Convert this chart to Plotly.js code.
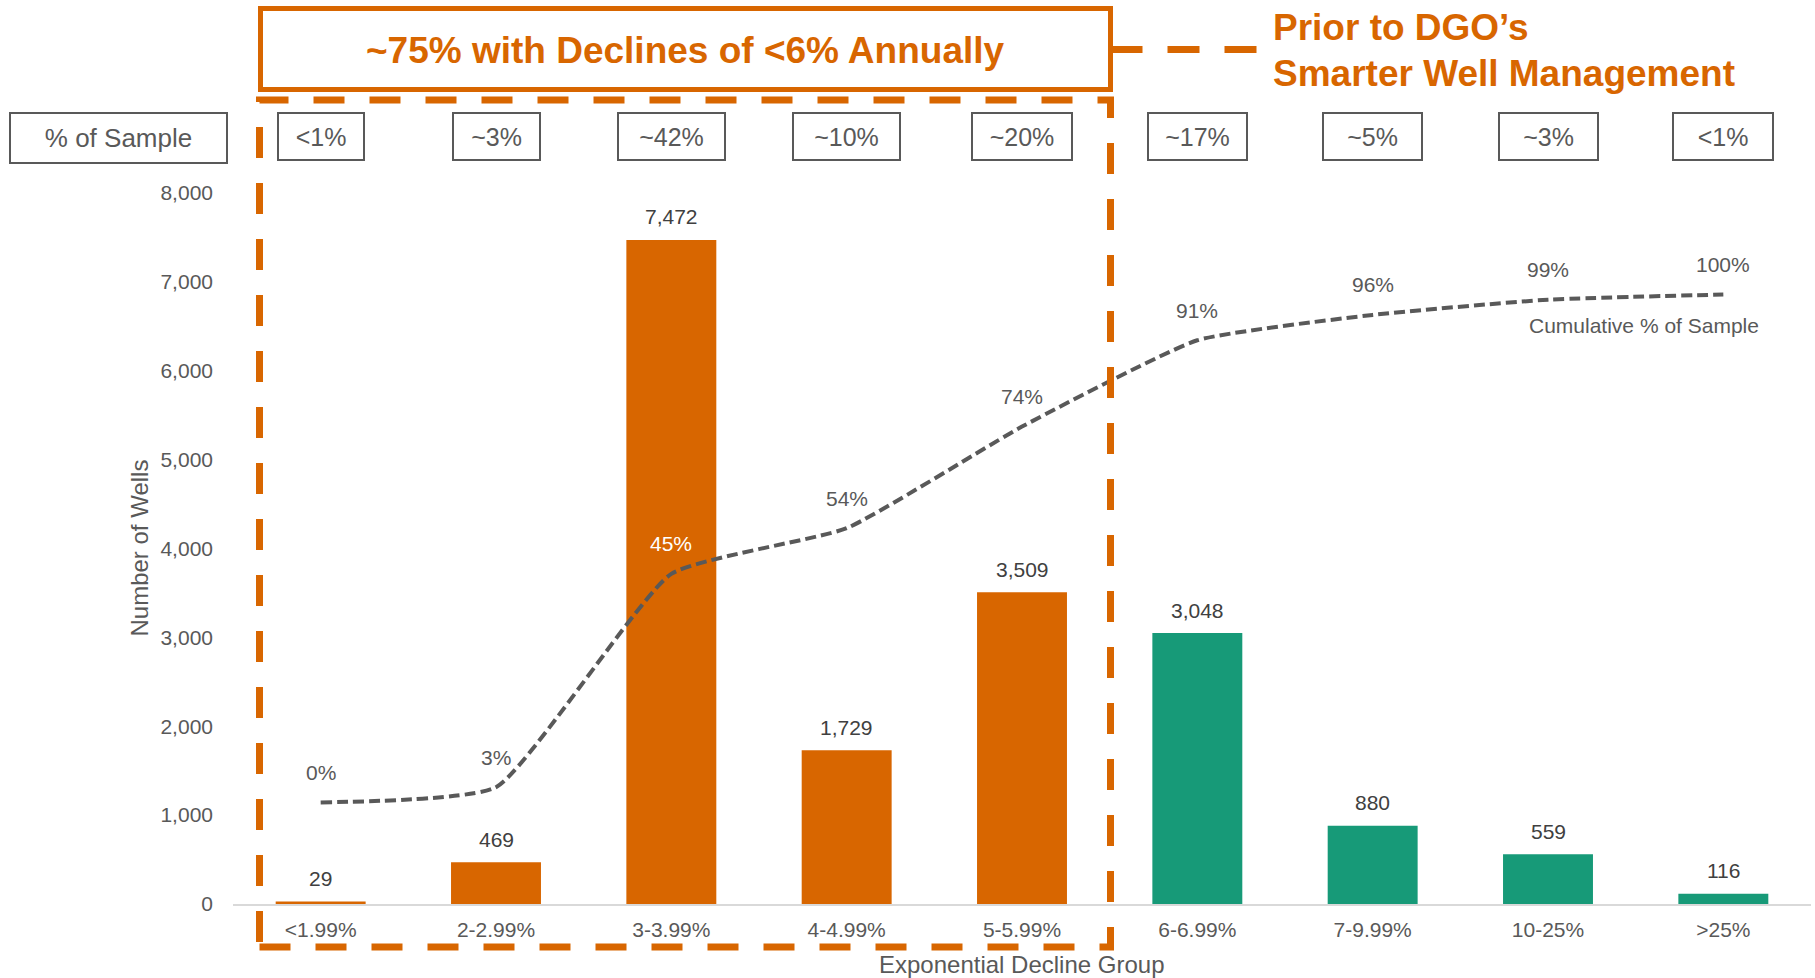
<!DOCTYPE html>
<html>
<head>
<meta charset="utf-8">
<script src="https://cdn.plot.ly/plotly-3.0.1.min.js"></script>
<style>
  html, body { margin: 0; padding: 0; background: #ffffff; }
  #chart { width: 1815px; height: 978px; }
</style>
</head>
<body>
<div id="chart"></div>
<script>
// ---- data ----
const categories = ['<1.99%', '2-2.99%', '3-3.99%', '4-4.99%', '5-5.99%', '6-6.99%', '7-9.99%', '10-25%', '>25%'];
const wells = [29, 469, 7472, 1729, 3509, 3048, 880, 559, 116];
const cumulativePct = [0, 3, 45, 54, 74, 91, 96, 99, 100];
const sampleShare = ['<1%', '~3%', '~42%', '~10%', '~20%', '~17%', '~5%', '~3%', '<1%'];
const highlightCount = 5; // first five groups: declines below 6%
const headline = '~75% with Declines of &lt;6% Annually';
const sideNoteLines = ['Prior to DGO’s', 'Smarter Well Management'];
const lineName = 'Cumulative % of Sample';
const shareHeader = '% of Sample';
const xTitle = 'Exponential Decline Group';
const yTitle = 'Number of Wells';

// ---- styling ----
const ORANGE = '#D86600';
const GREEN = '#179A78';
const GRAY = '#595959';
const DARK = '#404040';
const FONT = 'Liberation Sans, Arial, Helvetica, sans-serif';
const boxWidths = [88, 89, 109, 109, 102, 101, 101, 101, 102];

const W = 1815, H = 978;
const M = { l: 233, r: 4, t: 193, b: 74 };
const PW = W - M.l - M.r, PH = H - M.t - M.b;
const px = x => (x - M.l) / PW;           // pixel -> paper x
const py = y => (H - M.b - y) / PH;       // pixel -> paper y

const Y2MIN = -20, Y2MAX = 120, YMAX = 8000;

const barColors = wells.map((_, i) => i < highlightCount ? ORANGE : GREEN);

const traces = [
  {
    type: 'bar',
    x: categories,
    y: wells,
    width: 0.513,
    marker: { color: barColors },
    hoverinfo: 'skip'
  },
  {
    type: 'scatter',
    mode: 'lines',
    x: categories,
    y: cumulativePct,
    yaxis: 'y2',
    line: { color: GRAY, width: 4, dash: '11px,5px', shape: 'spline', smoothing: 0.45 },
    hoverinfo: 'skip'
  }
];

const annotations = [];

// bar value labels
wells.forEach((v, i) => {
  annotations.push({
    x: categories[i], y: v, xref: 'x', yref: 'y',
    text: v.toLocaleString('en-US'), showarrow: false,
    yshift: 23, yanchor: 'middle',
    font: { family: FONT, size: 21, color: DARK }
  });
});

// cumulative labels
cumulativePct.forEach((v, i) => {
  const asY1 = (v - Y2MIN) / (Y2MAX - Y2MIN) * YMAX;
  const inside = asY1 < wells[i];
  annotations.push({
    x: categories[i], y: v, xref: 'x', yref: 'y2',
    text: v + '%', showarrow: false,
    yshift: 30, yanchor: 'middle',
    font: { family: FONT, size: 21, color: inside ? '#FFFFFF' : GRAY }
  });
});

// share boxes
sampleShare.forEach((s, i) => {
  annotations.push({
    x: categories[i], y: py(136.5), xref: 'x', yref: 'paper',
    text: s, showarrow: false, xanchor: 'center', yanchor: 'middle',
    width: boxWidths[i] - 4, height: 45, borderpad: 0,
    bordercolor: GRAY, borderwidth: 2, bgcolor: '#FFFFFF',
    font: { family: FONT, size: 25, color: GRAY }
  });
});

annotations.push({
  x: px(118.5), y: py(138), xref: 'paper', yref: 'paper',
  text: shareHeader, showarrow: false, xanchor: 'center', yanchor: 'middle',
  width: 215, height: 48, borderpad: 0,
  bordercolor: GRAY, borderwidth: 2, bgcolor: '#FFFFFF',
  font: { family: FONT, size: 26, color: GRAY }
});

// headline
annotations.push({
  x: px(685.5), y: py(50), xref: 'paper', yref: 'paper',
  text: '<b>' + headline + '</b>', showarrow: false, xanchor: 'center', yanchor: 'middle',
  font: { family: FONT, size: 37, color: ORANGE }
});

// side note (two lines)
[28, 73].forEach((yc, k) => {
  annotations.push({
    x: px(1271), y: py(yc), xref: 'paper', yref: 'paper',
    text: '<b>' + sideNoteLines[k] + '</b>', showarrow: false, xanchor: 'left', yanchor: 'middle', align: 'left',
    font: { family: FONT, size: 37, color: ORANGE }
  });
});

// line name
annotations.push({
  x: px(1644), y: py(325), xref: 'paper', yref: 'paper',
  text: lineName, showarrow: false, xanchor: 'center', yanchor: 'middle',
  font: { family: FONT, size: 21, color: GRAY }
});

// axis titles
annotations.push({
  x: 0.5, y: py(964), xref: 'paper', yref: 'paper',
  text: xTitle, showarrow: false, xanchor: 'center', yanchor: 'middle',
  font: { family: FONT, size: 24, color: GRAY }
});
annotations.push({
  x: px(139), y: 0.5, xref: 'paper', yref: 'paper',
  text: yTitle, showarrow: false, xanchor: 'center', yanchor: 'middle', textangle: -90,
  font: { family: FONT, size: 24, color: GRAY }
});

const shapes = [
  // solid headline box
  {
    type: 'rect', xref: 'paper', yref: 'paper',
    x0: px(260.5), x1: px(1110.5), y0: py(89.5), y1: py(8.5),
    line: { color: ORANGE, width: 5 }, fillcolor: 'rgba(0,0,0,0)'
  },
  // dashed group box
  {
    type: 'rect', xref: 'paper', yref: 'paper',
    x0: px(259.5), x1: px(1110.5), y0: py(947), y1: py(100),
    line: { color: ORANGE, width: 7, dash: '31px,25px' }, fillcolor: 'rgba(0,0,0,0)'
  },
  // connector
  {
    type: 'line', xref: 'paper', yref: 'paper',
    x0: px(1110.5), x1: px(1257), y0: py(49.5), y1: py(49.5),
    line: { color: ORANGE, width: 7, dash: '32px,25px' }
  }
];

const layout = {
  width: W, height: H,
  margin: M,
  paper_bgcolor: '#FFFFFF', plot_bgcolor: '#FFFFFF',
  showlegend: false,
  font: { family: FONT, color: GRAY },
  xaxis: {
    type: 'category', range: [-0.5, categories.length - 0.5],
    showline: true, linecolor: '#D9D9D9', linewidth: 1.5,
    ticks: '', showgrid: false, zeroline: false,
    tickfont: { family: FONT, size: 21, color: GRAY },
    ticklabelstandoff: 6, automargin: false, fixedrange: true
  },
  yaxis: {
    range: [0, YMAX], tickmode: 'linear', tick0: 0, dtick: 1000, tickformat: ',d',
    showgrid: false, zeroline: false, showline: false, ticks: '',
    tickfont: { family: FONT, size: 21, color: GRAY },
    ticklabelstandoff: 19, automargin: false, fixedrange: true
  },
  yaxis2: {
    overlaying: 'y', side: 'right', range: [Y2MIN, Y2MAX],
    visible: false, showgrid: false, zeroline: false, fixedrange: true
  },
  annotations: annotations,
  shapes: shapes
};

Plotly.newPlot('chart', traces, layout, { staticPlot: true, displayModeBar: false });
</script>
</body>
</html>
